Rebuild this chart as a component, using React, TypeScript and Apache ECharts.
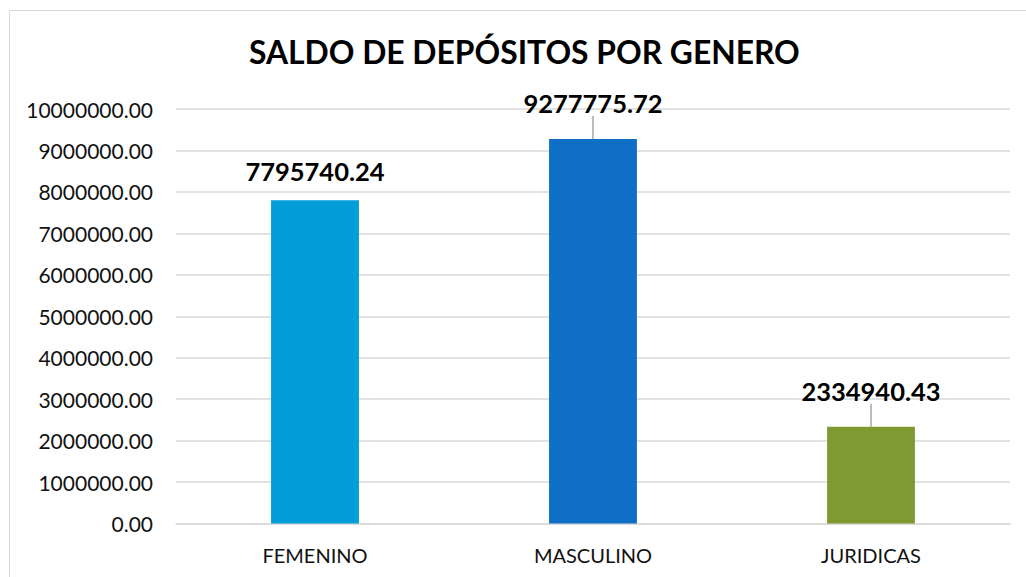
import React, { useEffect, useRef } from "react";
import * as echarts from "echarts";

const categories = ["FEMENINO", "MASCULINO", "JURIDICAS"];
const values = [7795740.24, 9277775.72, 2334940.43];
const barColors = ["#009DD9", "#0F6FC6", "#7F9A33"];
const labelLift = [0, -7, -7];
const showLeader = [false, true, true];
const titleText = "SALDO DE DEPÓSITOS POR GENERO";

export default function App() {
  const ref = useRef<HTMLDivElement>(null);
  useEffect(() => {
    if (!ref.current) return;
    const chart = echarts.init(ref.current, null, { renderer: "svg" });
    chart.setOption({
      animation: false,
      backgroundColor: "#ffffff",
      title: {
        text: titleText,
        left: 244,
        top: 31,
        textStyle: { fontFamily: "Lato", fontWeight: "bold", fontSize: 31.8, color: "#000" },
      },
      graphic: [
        {
          type: "rect",
          shape: { x: 9.5, y: 10.5, width: 1100, height: 700 },
          style: { fill: "none", stroke: "#d9d9d9", lineWidth: 1 },
          silent: true,
        },
      ],
      grid: { left: 176, right: 16, top: 109, bottom: 53.5 },
      xAxis: {
        type: "category",
        data: categories,
        axisLine: { show: true, lineStyle: { color: "#d9d9d9", width: 1.5 } },
        axisTick: { show: false },
        axisLabel: { fontFamily: "Lato", fontSize: 20, color: "#111", margin: 21 },
      },
      yAxis: {
        type: "value",
        min: 0,
        max: 10000000,
        interval: 1000000,
        axisLine: { show: false },
        axisTick: { show: false },
        splitLine: { lineStyle: { color: "#d9d9d9", width: 1.5 } },
        axisLabel: {
          fontFamily: "Lato",
          fontSize: 21,
          color: "#111",
          margin: 23,
          formatter: (v: number) => v.toFixed(2),
        },
      },
      series: [
        {
          type: "bar",
          barWidth: "31.6%",
          data: values.map((v, i) => ({
            value: v,
            itemStyle: { color: barColors[i] },
            labelLine: { show: showLeader[i], lineStyle: { color: "#a6a6a6", width: 1.5 } },
          })),
          label: {
            show: true,
            position: "top",
            distance: 16,
            fontFamily: "Lato",
            fontWeight: "bold",
            fontSize: 25.5,
            color: "#000",
            formatter: (p: any) => Number(p.value).toFixed(2),
          },
          labelLine: { show: true, lineStyle: { color: "#a6a6a6", width: 1.5 } },
          labelLayout: (p: any) => ({ dy: labelLift[p.dataIndex] }),
        },
      ],
    });
    return () => chart.dispose();
  }, []);
  return (
    <div
      ref={ref}
      style={{ position: "absolute", left: 0, top: 0, width: 1026, height: 577 }}
    />
  );
}
